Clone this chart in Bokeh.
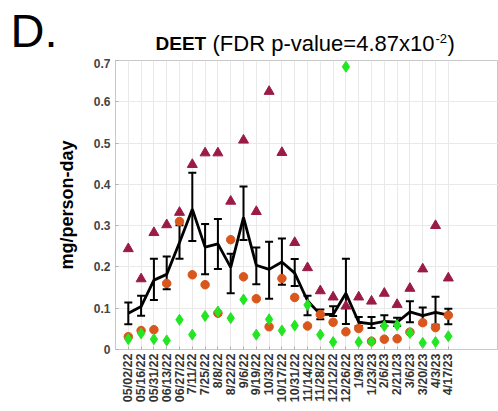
import math
from bokeh.plotting import figure
from bokeh.layouts import column
from bokeh.models import (Range1d, FixedTicker, Whisker, TeeHead, ColumnDataSource)
from bokeh.core.properties import value
from bokeh.embed import file_html
from bokeh.resources import INLINE

dates = ["05/02/22", "05/16/22", "05/31/22", "06/13/22", "06/27/22", "7/11/22", "7/25/22",
         "8/8/22", "8/22/22", "9/6/22", "9/19/22", "10/3/22", "10/17/22", "10/31/22",
         "11/14/22", "11/28/22", "12/12/22", "12/26/22", "1/9/23", "1/23/23", "2/6/23",
         "2/21/23", "3/6/23", "3/20/23", "4/3/23", "4/17/23"]

mean_vals = [0.088, 0.104, 0.168, 0.182, 0.259, 0.340, 0.248, 0.256, 0.199, 0.320, 0.204,
             0.194, 0.212, 0.185, 0.118, 0.085, 0.085, 0.136, 0.066, 0.062, 0.068, 0.066,
             0.091, 0.082, 0.090, 0.083]
upper_vals = [0.114, 0.130, 0.220, 0.225, 0.301, 0.428, 0.304, 0.316, 0.232, 0.395, 0.247,
              0.261, 0.269, 0.219, 0.130, 0.097, 0.105, 0.220, 0.079, 0.079, 0.083, 0.077,
              0.117, 0.102, 0.128, 0.099]
lower_vals = [0.061, 0.082, 0.120, 0.146, 0.220, 0.263, 0.182, 0.195, 0.136, 0.265, 0.158,
              0.123, 0.157, 0.154, 0.083, 0.073, 0.081, 0.062, 0.057, 0.052, 0.057, 0.057,
              0.066, 0.061, 0.060, 0.061]
triangle_vals = [0.244, 0.171, 0.283, 0.302, 0.332, 0.448, 0.476, 0.476, 0.359, 0.507, 0.334,
                 0.625, 0.477, 0.259, 0.198, 0.142, 0.127, 0.105, 0.127, 0.117, 0.136, 0.109,
                 0.148, 0.195, 0.300, 0.173]
orange_vals = [0.031, 0.046, 0.048, 0.160, 0.310, 0.181, 0.157, 0.088, 0.266, 0.176, 0.123,
               0.055, 0.172, 0.126, 0.057, 0.085, 0.066, 0.043, 0.051, 0.020, 0.025, 0.026,
               0.042, 0.065, 0.053, 0.083]
green_vals = [0.025, 0.039, 0.025, 0.022, 0.072, 0.036, 0.081, 0.092, 0.076, 0.121, 0.036,
              0.073, 0.046, 0.058, 0.108, 0.036, 0.018, 0.685, 0.018, 0.019, 0.057, 0.059,
              0.040, 0.016, 0.018, 0.032]

y_ticks = [0, 0.1, 0.2, 0.3, 0.4, 0.5, 0.6, 0.7]
y_tick_labels = ["0", "0.1", "0.2", "0.3", "0.4", "0.5", "0.6", "0.7"]

FONT = "Liberation Sans"
GRID = "#e9e9e9"
W, H_TITLE, H_MAIN = 498, 58, 353

# ---------------- title strip (frame = whole canvas) ----------------
t = figure(width=W, height=H_TITLE, output_backend="svg", toolbar_location=None,
           x_range=Range1d(0, W), y_range=Range1d(0, H_TITLE),
           min_border_left=0, min_border_right=0, min_border_top=0, min_border_bottom=0)
t.axis.visible = False
t.grid.visible = False
t.outline_line_color = None
t.title.visible = False
t.background_fill_color = "white"
t.border_fill_color = "white"
t.frame_align = False

def title_text(x, y_mid, s, size, style="normal"):
    # y_mid: vertical middle of the text, in pixels measured from the top of the page
    t.text(x=[x], y=[H_TITLE - y_mid], text=[s], text_font=value(FONT), text_font_size=size,
           text_font_style=style, text_color="black", text_baseline="middle",
           text_align="left")

title_text(10, 29.5, "D.", "47px")
title_text(155, 43, "DEET", "19px", "bold")
title_text(212, 43, "(FDR p-value=4.87x10", "22px")
title_text(435, 37.5, "-2", "13px")
title_text(447, 43, ")", "22px")

# ---------------- main plot ----------------
xs = list(range(1, len(dates) + 1))
src = ColumnDataSource(dict(x=xs, mean=mean_vals, upper=upper_vals, lower=lower_vals,
                            tri=triangle_vals, orange=orange_vals, green=green_vals))

p = figure(width=W, height=H_MAIN, output_backend="svg", toolbar_location=None,
           x_range=Range1d(0, 29.92), y_range=Range1d(0, 0.7),
           min_border_left=115, min_border_right=0, min_border_top=2, min_border_bottom=62)
p.title.visible = False
p.frame_align = False
p.background_fill_color = "white"
p.border_fill_color = "white"
p.outline_line_color = "#c8c8c8"

p.xaxis.ticker = FixedTicker(ticks=xs)
p.xaxis.major_label_overrides = {x: d for x, d in zip(xs, dates)}
p.xaxis.major_label_orientation = math.pi / 2
p.xaxis.major_label_text_font = FONT
p.xaxis.major_label_text_font_style = "bold"
p.xaxis.major_label_text_font_size = "12.5px"
p.xaxis.major_label_text_color = "#333333"
p.xaxis.major_label_standoff = 4
p.xaxis.axis_line_color = "#c8c8c8"
p.xaxis.major_tick_line_color = "#b0b0b0"
p.xaxis.major_tick_in = 3
p.xaxis.major_tick_out = 0
p.xaxis.minor_tick_line_color = None

p.yaxis.ticker = FixedTicker(ticks=y_ticks)
p.yaxis.major_label_overrides = {tk: lb for tk, lb in zip(y_ticks, y_tick_labels)}
p.yaxis.major_label_text_font = FONT
p.yaxis.major_label_text_font_style = "bold"
p.yaxis.major_label_text_font_size = "12px"
p.yaxis.major_label_text_color = "#444444"
p.yaxis.major_label_standoff = 5
p.yaxis.axis_line_color = "#c8c8c8"
p.yaxis.major_tick_line_color = "#b0b0b0"
p.yaxis.major_tick_in = 3
p.yaxis.major_tick_out = 0
p.yaxis.minor_tick_line_color = None
p.yaxis.axis_label = "mg/person-day"
p.yaxis.axis_label_text_font = FONT
p.yaxis.axis_label_text_font_style = "bold"
p.yaxis.axis_label_text_font_size = "18px"
p.yaxis.axis_label_text_color = "black"
p.yaxis.axis_label_standoff = 14

p.xgrid.grid_line_color = GRID
p.ygrid.grid_line_color = GRID

p.line("x", "mean", source=src, line_color="black", line_width=2.8)
w = Whisker(base="x", upper="upper", lower="lower", source=src,
            line_color="black", line_width=2,
            upper_head=TeeHead(size=8, line_color="black", line_width=2),
            lower_head=TeeHead(size=8, line_color="black", line_width=2))
p.add_layout(w)

p.scatter("x", "tri", source=src, marker="triangle", size=10,
          fill_color="#9A1B45", line_color="#9A1B45")
p.scatter("x", "orange", source=src, marker="circle", size=8.5,
          fill_color="#D9561C", line_color="#D9561C")
p.scatter("x", "green", source=src, marker="diamond", size=11,
          fill_color="#22E622", line_color="#22E622")

layout = column(t, p, spacing=0)
open("out.html", "w").write(file_html(layout, INLINE))
